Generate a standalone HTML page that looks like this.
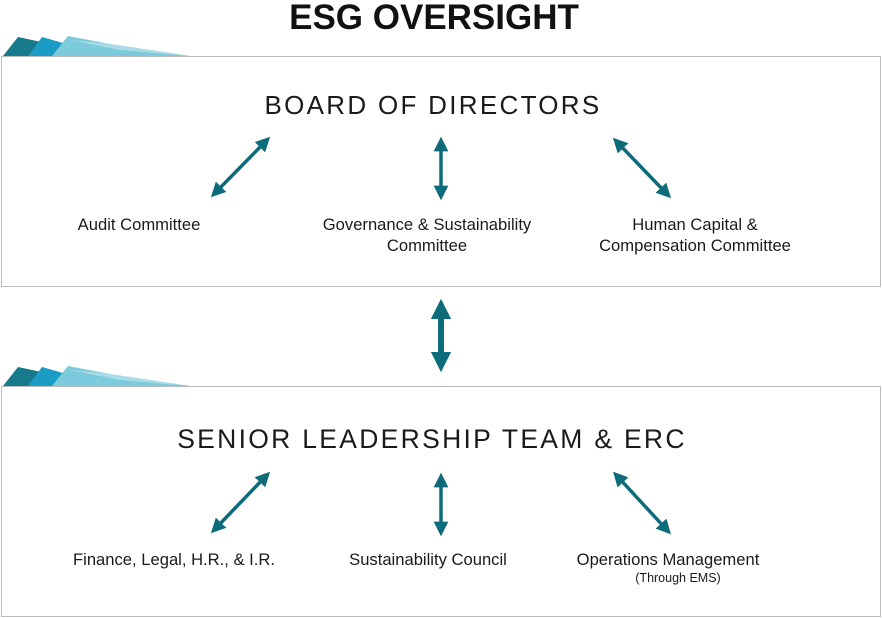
<!DOCTYPE html>
<html><head><style>
body{margin:0;width:882px;height:618px;background:#fff;font-family:"Liberation Sans",Arial,sans-serif;position:relative;overflow:hidden}
.t{position:absolute;text-align:center;color:#1a1a1a;white-space:nowrap}
</style></head><body>
<svg width="882" height="618" style="position:absolute;left:0;top:0">
<defs>
<marker id="a" viewBox="0 0 10 10" refX="5" refY="5" markerWidth="4.2" markerHeight="4.2" orient="auto-start-reverse"><path d="M0,0L10,5L0,10z" fill="#0e6b7a"/></marker>
<marker id="b" viewBox="0 0 10 10" refX="5" refY="5" markerWidth="3.4" markerHeight="3.4" orient="auto-start-reverse"><path d="M0,0L10,5L0,10z" fill="#0e6b7a"/></marker>
<g id="tab">
<polygon points="3,56 18,37 60,46 52,56" fill="#167a8c"/>
<polygon points="28,56 42,37 70,45 60,56" fill="#1a9cc4"/>
<polygon points="52,56 68,36 110,44 190,56" fill="#7ccbdc"/>
<polygon points="70,40 110,44 190,56 120,50" fill="#a8dce8"/>
</g>
</defs>
<use href="#tab"/>
<use href="#tab" y="330"/>
<rect x="1.5" y="56.5" width="879" height="230" fill="none" stroke="#bbb"/>
<rect x="1.5" y="386.5" width="879" height="230" fill="none" stroke="#bbb"/>
<g stroke="#0e6b7a" stroke-width="3.5" fill="none">
<line x1="216" y1="192" x2="265" y2="142" marker-start="url(#a)" marker-end="url(#a)"/>
<line x1="441" y1="144" x2="441" y2="193" marker-start="url(#a)" marker-end="url(#a)"/>
<line x1="618" y1="143" x2="666" y2="193" marker-start="url(#a)" marker-end="url(#a)"/>
<line x1="216" y1="528" x2="265" y2="477" marker-start="url(#a)" marker-end="url(#a)"/>
<line x1="441" y1="480" x2="441" y2="529" marker-start="url(#a)" marker-end="url(#a)"/>
<line x1="618" y1="477" x2="666" y2="529" marker-start="url(#a)" marker-end="url(#a)"/>
<line x1="441" y1="309" x2="441" y2="362" stroke-width="6" marker-start="url(#b)" marker-end="url(#b)"/>
</g>
</svg>
<div class="t" style="left:0;width:868px;top:-2px;font-size:35px;font-weight:bold;color:#111">ESG OVERSIGHT</div>
<div class="t" style="left:0;width:866px;top:90px;font-size:26px;letter-spacing:2.3px">BOARD OF DIRECTORS</div>
<div class="t" style="left:0;width:864px;top:424px;font-size:26.5px;letter-spacing:2.3px">SENIOR LEADERSHIP TEAM &amp; ERC</div>
<div class="t" style="left:39px;width:200px;top:215px;font-size:16.6px">Audit Committee</div>
<div class="t" style="left:277px;width:300px;top:214px;font-size:16.6px;line-height:21px">Governance &amp; Sustainability<br>Committee</div>
<div class="t" style="left:545px;width:300px;top:214px;font-size:16.6px;line-height:21px">Human Capital &amp;<br>Compensation Committee</div>
<div class="t" style="left:24px;width:300px;top:550px;font-size:16.6px">Finance, Legal, H.R., &amp; I.R.</div>
<div class="t" style="left:278px;width:300px;top:550px;font-size:16.6px">Sustainability Council</div>
<div class="t" style="left:518px;width:300px;top:550px;font-size:16.6px">Operations Management</div>
<div class="t" style="left:528px;width:300px;top:571px;font-size:12.5px">(Through EMS)</div>
</body></html>
